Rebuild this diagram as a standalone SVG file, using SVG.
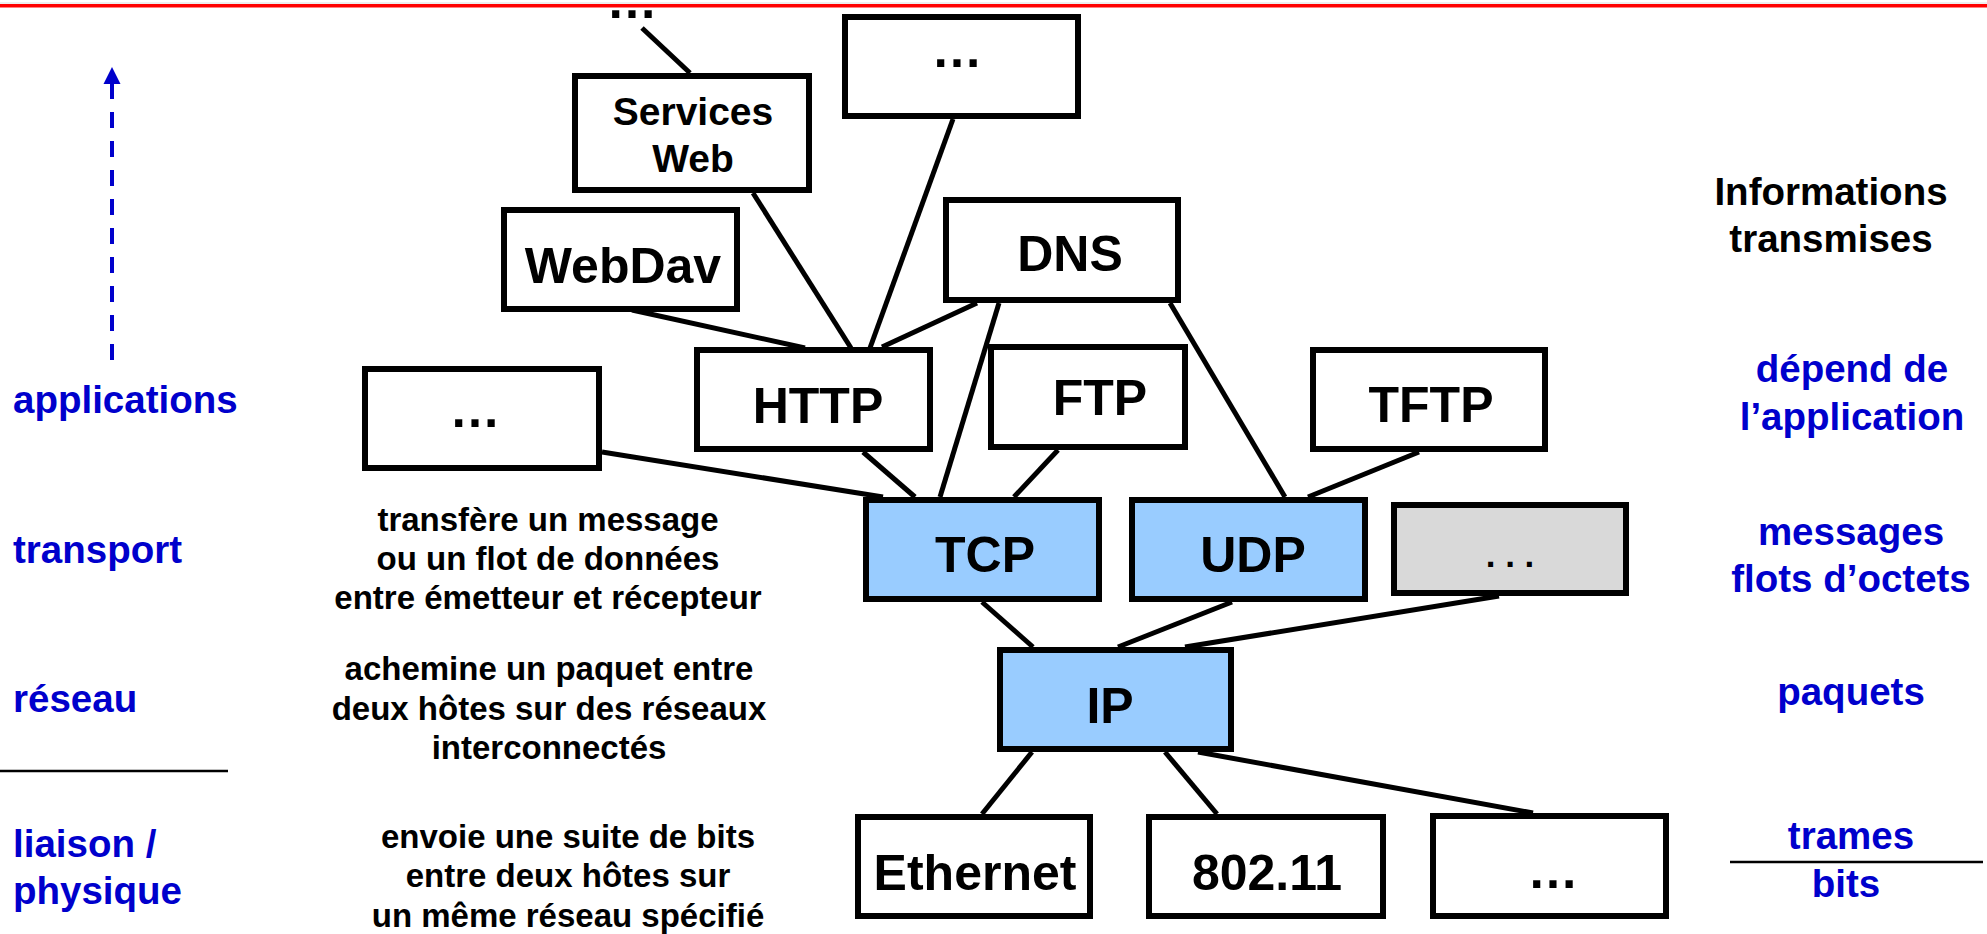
<svg xmlns="http://www.w3.org/2000/svg" width="1987" height="934" viewBox="0 0 1987 934">
<defs>
<style>
.box{fill:#ffffff;stroke:#000;stroke-width:6}
.blue{fill:#99ccff;stroke:#000;stroke-width:6}
.gray{fill:#d9d9d9;stroke:#000;stroke-width:6}
.lbl{font-family:"Liberation Sans",Arial,Helvetica,sans-serif;font-weight:bold;font-size:50px;fill:#000;text-anchor:middle}
.sm{font-size:39px}
.dots{font-size:51px}
.mid{font-family:"Liberation Sans",Arial,Helvetica,sans-serif;font-weight:bold;font-size:33px;fill:#000;text-anchor:middle}
.side{font-family:"Liberation Sans",Arial,Helvetica,sans-serif;font-weight:bold;font-size:38.5px;fill:#0000cc}
.rt{text-anchor:middle}
.con line{stroke:#000;stroke-width:5}
</style>
</defs>
<rect width="1987" height="934" fill="#fff"/>
<line x1="0" y1="3" x2="1987" y2="3" stroke="#dddddd" stroke-width="1"/>
<line x1="0" y1="5.7" x2="1987" y2="5.7" stroke="#ff0000" stroke-width="3.4"/>

<g id="layer-arrow">
<line x1="112" y1="83" x2="112" y2="361" stroke="#0000cc" stroke-width="4" stroke-dasharray="16 13"/>
<polygon points="112,67 103.5,84 120.5,84" fill="#0000cc"/>
</g>

<g id="connectors" class="con">
<line x1="642" y1="28" x2="690" y2="73"/>
<line x1="753" y1="193" x2="851" y2="348"/>
<line x1="953" y1="119" x2="870" y2="348"/>
<line x1="632" y1="310" x2="805" y2="348"/>
<line x1="977" y1="303" x2="882" y2="347"/>
<line x1="999" y1="303" x2="940" y2="497"/>
<line x1="1170" y1="303" x2="1285" y2="497"/>
<line x1="602" y1="452" x2="883" y2="497"/>
<line x1="863" y1="452" x2="915" y2="497"/>
<line x1="1058" y1="450" x2="1014" y2="497"/>
<line x1="1419" y1="452" x2="1308" y2="497"/>
<line x1="982" y1="602" x2="1033" y2="647"/>
<line x1="1232" y1="602" x2="1118" y2="647"/>
<line x1="1499" y1="596" x2="1185" y2="647"/>
<line x1="1032" y1="752" x2="982" y2="814"/>
<line x1="1165" y1="752" x2="1217" y2="814"/>
<line x1="1198" y1="752" x2="1533" y2="813"/>
</g>

<g id="node-top-dots"><text class="lbl dots" x="632" y="18">…</text></g>
<g id="node-services-web">
<rect class="box" x="575" y="76" width="234" height="114"/>
<text class="lbl sm" x="693" y="125">Services</text>
<text class="lbl sm" x="693" y="172">Web</text>
</g>
<g id="node-top-etc">
<rect class="box" x="845" y="17" width="233" height="99"/>
<text class="lbl dots" x="957" y="67">…</text>
</g>
<g id="node-webdav">
<rect class="box" x="504" y="210" width="233" height="99"/>
<text class="lbl" x="623" y="283">WebDav</text>
</g>
<g id="node-dns">
<rect class="box" x="946" y="200" width="232" height="100"/>
<text class="lbl" x="1070" y="271">DNS</text>
</g>
<g id="node-left-etc">
<rect class="box" x="365" y="369" width="234" height="99"/>
<text class="lbl dots" x="475" y="427">…</text>
</g>
<g id="node-http">
<rect class="box" x="697" y="350" width="233" height="99"/>
<text class="lbl" x="818" y="423">HTTP</text>
</g>
<g id="node-ftp">
<rect class="box" x="991" y="347" width="194" height="100"/>
<text class="lbl" x="1100" y="415">FTP</text>
</g>
<g id="node-tftp">
<rect class="box" x="1313" y="350" width="232" height="99"/>
<text class="lbl" x="1431" y="422">TFTP</text>
</g>
<g id="node-tcp">
<rect class="blue" x="866" y="500" width="233" height="99"/>
<text class="lbl" x="985" y="572">TCP</text>
</g>
<g id="node-udp">
<rect class="blue" x="1132" y="500" width="233" height="99"/>
<text class="lbl" x="1253" y="572">UDP</text>
</g>
<g id="node-transport-etc">
<rect class="gray" x="1394" y="505" width="232" height="88"/>
<text class="lbl" style="font-size:35px" x="1510" y="567">. . .</text>
</g>
<g id="node-ip">
<rect class="blue" x="1000" y="650" width="231" height="99"/>
<text class="lbl" x="1110" y="723">IP</text>
</g>
<g id="node-ethernet">
<rect class="box" x="858" y="817" width="232" height="99"/>
<text class="lbl" x="975" y="890">Ethernet</text>
</g>
<g id="node-80211">
<rect class="box" x="1149" y="817" width="234" height="99"/>
<text class="lbl" x="1267" y="890">802.11</text>
</g>
<g id="node-link-etc">
<rect class="box" x="1433" y="816" width="233" height="100"/>
<text class="lbl dots" x="1553" y="888">…</text>
</g>

<g id="left-labels">
<text class="side" x="13" y="413">applications</text>
<text class="side" x="13" y="563">transport</text>
<text class="side" x="13" y="712">réseau</text>
<line x1="0" y1="771" x2="228" y2="771" stroke="#000" stroke-width="2.5"/>
<text class="side" x="13" y="857">liaison /</text>
<text class="side" x="13" y="904">physique</text>
</g>

<g id="descriptions">
<text class="mid" x="548" y="531">transfère un message</text>
<text class="mid" x="548" y="570">ou un flot de données</text>
<text class="mid" x="548" y="609">entre émetteur et récepteur</text>
<text class="mid" x="549" y="680">achemine un paquet entre</text>
<text class="mid" x="549" y="720">deux hôtes sur des réseaux</text>
<text class="mid" x="549" y="759">interconnectés</text>
<text class="mid" x="568" y="848">envoie une suite de bits</text>
<text class="mid" x="568" y="887">entre deux hôtes sur</text>
<text class="mid" x="568" y="927">un même réseau spécifié</text>
</g>

<g id="right-labels">
<text class="side rt" style="fill:#000" x="1831" y="205">Informations</text>
<text class="side rt" style="fill:#000" x="1831" y="252">transmises</text>
<text class="side rt" x="1852" y="382">dépend de</text>
<text class="side rt" x="1852" y="430">l’application</text>
<text class="side rt" x="1851" y="545">messages</text>
<text class="side rt" x="1851" y="592">flots d’octets</text>
<text class="side rt" x="1851" y="705">paquets</text>
<text class="side rt" x="1851" y="849">trames</text>
<line x1="1730" y1="862" x2="1983" y2="862" stroke="#000" stroke-width="2.5"/>
<text class="side rt" x="1846" y="897">bits</text>
</g>
</svg>
